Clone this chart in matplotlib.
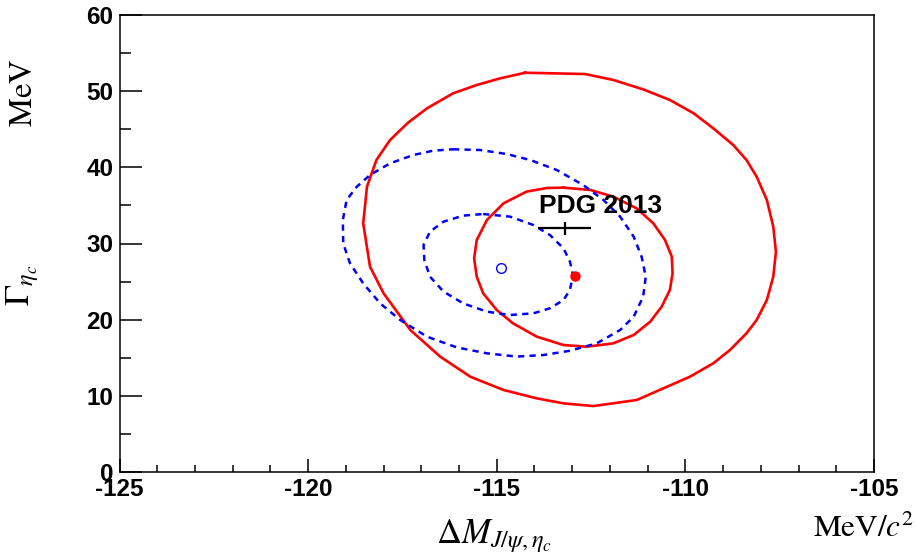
import matplotlib
matplotlib.use('Agg')
import matplotlib.pyplot as plt
from matplotlib.ticker import MultipleLocator

plt.rcParams['axes.unicode_minus'] = False
plt.rcParams['mathtext.fontset'] = 'stix'

# outer red contour (solid)
red_outer_dm = [-114.25, -112.66, -111.91, -111.12, -110.41, -109.78, -109.26, -108.73,
                -108.38, -108.11, -107.84, -107.67, -107.60, -107.67, -107.84, -108.11,
                -108.38, -108.82, -109.26, -109.88, -110.58, -111.29, -112.44, -113.23,
                -113.94, -114.82, -115.70, -116.50, -117.29, -118.00, -118.36, -118.54,
                -118.44, -118.19, -117.83, -117.35, -116.85, -116.16, -115.53, -114.91]
red_outer_w = [52.42, 52.25, 51.47, 50.24, 48.84, 47.09, 45.12, 42.93,
               40.96, 38.77, 35.71, 32.21, 28.93, 25.64, 22.58, 19.96,
               18.21, 16.01, 14.27, 12.51, 10.99, 9.45, 8.66, 9.01,
               9.67, 10.77, 12.51, 15.15, 18.64, 23.46, 26.96, 32.65,
               37.46, 40.96, 43.58, 45.87, 47.74, 49.71, 50.81, 51.68]

# inner red contour (solid)
red_inner_dm = [-113.23, -112.52, -111.91, -111.29, -110.85, -110.54, -110.36, -110.34,
                -110.41, -110.63, -110.93, -111.37, -111.91, -112.62, -113.23, -113.94,
                -114.57, -115.00, -115.36, -115.53, -115.60, -115.53, -115.26, -114.82,
                -114.21, -113.67]
red_inner_w = [37.33, 37.03, 36.15, 34.61, 32.65, 30.46, 28.27, 26.08,
               23.90, 21.70, 19.74, 17.99, 16.89, 16.45, 16.67, 17.77,
               19.52, 21.27, 23.46, 25.64, 28.05, 30.46, 33.09, 35.27,
               36.81, 37.29]

# outer blue contour (dashed)
blue_outer_dm = [-116.16, -115.45, -114.74, -114.11, -113.41, -112.71, -112.17, -111.73,
                 -111.37, -111.16, -111.05, -111.12, -111.37, -111.73, -112.35, -113.06,
                 -113.76, -114.47, -115.26, -116.06, -116.85, -117.56, -118.09, -118.54,
                 -118.89, -119.07, -119.08, -118.98, -118.71, -118.36, -117.83, -117.21,
                 -116.68]
blue_outer_w = [42.37, 42.28, 41.75, 40.96, 39.65, 37.68, 35.71, 33.53,
                30.89, 28.27, 25.64, 23.02, 20.39, 18.64, 16.89, 15.92,
                15.36, 15.15, 15.58, 16.36, 17.77, 19.96, 22.14, 24.76,
                27.40, 30.02, 33.09, 35.71, 37.46, 38.99, 40.52, 41.62,
                42.19]

# inner blue contour (dashed)
blue_inner_dm = [-115.36, -114.65, -114.03, -113.59, -113.23, -113.06, -112.98, -113.06,
                 -113.23, -113.59, -114.03, -114.65, -115.26, -115.89, -116.41, -116.77,
                 -116.92, -116.94, -116.77, -116.41, -115.89]
blue_inner_w = [33.87, 33.53, 32.43, 31.11, 29.36, 27.62, 25.86, 23.90,
                22.58, 21.49, 20.83, 20.61, 21.05, 22.14, 23.68, 25.64,
                27.83, 29.80, 31.55, 32.87, 33.66]

# best-fit points
blue_best = (-114.88, 26.78)
red_best = (-112.93, 25.73)

# PDG 2013 value with errors
pdg_dm, pdg_dm_err = -113.2, 0.7
pdg_w, pdg_w_err = 32.0, 0.85

RED = '#ff0000'
BLUE = '#0000ff'


def closed(xs, ys):
    return list(xs) + [xs[0]], list(ys) + [ys[0]]


fig = plt.figure(figsize=(9.16, 5.58), dpi=100)
ax = fig.add_axes([119.5 / 916, 1 - 472 / 558, (874 - 119.5) / 916, (472 - 15) / 558])

x, y = closed(red_outer_dm, red_outer_w)
ax.plot(x, y, color=RED, lw=1.9)
x, y = closed(red_inner_dm, red_inner_w)
ax.plot(x, y, color=RED, lw=1.9)
x, y = closed(blue_outer_dm, blue_outer_w)
ax.plot(x, y, color=BLUE, lw=1.8, ls=(0, (2.5, 2.1)))
x, y = closed(blue_inner_dm, blue_inner_w)
ax.plot(x, y, color=BLUE, lw=1.8, ls=(0, (2.5, 2.1)))

ax.plot(*blue_best, 'o', mfc='none', mec=BLUE, ms=7, mew=1.0)
ax.plot(*red_best, 'o', color=RED, ms=6.5)

ax.errorbar(pdg_dm, pdg_w, xerr=pdg_dm_err, yerr=pdg_w_err, fmt='none',
            ecolor='black', elinewidth=1.6, capsize=0)
ax.text(-113.88, 33.96, 'PDG 2013', fontsize=19, fontweight='bold',
        family='Liberation Sans', ha='left', va='baseline')

ax.set_xlim(-125, -105)
ax.set_ylim(0, 60)
ax.xaxis.set_major_locator(MultipleLocator(5))
ax.xaxis.set_minor_locator(MultipleLocator(1))
ax.yaxis.set_major_locator(MultipleLocator(10))
ax.yaxis.set_minor_locator(MultipleLocator(5))

ax.tick_params(axis='both', which='both', direction='in', top=False, right=False,
               width=1.1, colors='black')
ax.tick_params(axis='y', which='major', length=15.8, pad=4.5)
ax.tick_params(axis='y', which='minor', length=7.9)
ax.tick_params(axis='x', which='major', length=9.4, pad=4)
ax.tick_params(axis='x', which='minor', length=5)
for lab in ax.get_xticklabels() + ax.get_yticklabels():
    lab.set_family('Liberation Sans')
    lab.set_fontweight('bold')
    lab.set_fontsize(17.5)
for sp in ax.spines.values():
    sp.set_linewidth(1.1)

fig.text(436 / 916, 1 - 543 / 558, r'$\Delta M_{J/\psi,\eta_c}$', fontsize=25,
         ha='left', va='baseline')
fig.text(914 / 916, 1 - 537 / 558, r'$\mathrm{MeV}/c^{2}$', fontsize=22.5,
         ha='right', va='baseline')
fig.text(22.5 / 916, 1 - 92.5 / 558, r'$\mathrm{MeV}$', fontsize=23.5, rotation=90,
         ha='center', va='center')
fig.text(22.5 / 916, 1 - 285 / 558, r'$\Gamma_{\eta_c}$', fontsize=25, rotation=90,
         ha='center', va='center')

fig.savefig('out.png', dpi=100)
